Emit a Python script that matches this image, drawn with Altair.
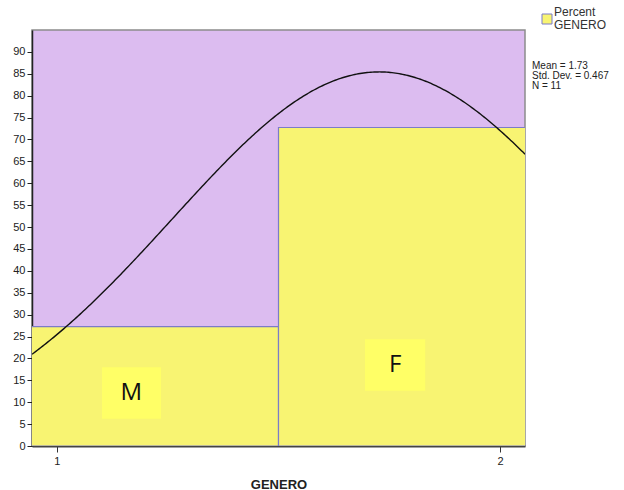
import altair as alt
import pandas as pd

# Histogram of GENERO (1 = M, 2 = F), shown as percent of cases
categories = ["M", "F"]
codes = [1, 2]
percents = [27.27, 72.73]

# Summary statistics reported beside the chart
mean_value = 1.727
std_dev = 0.467
n_cases = 11

# Label boxes placed on each bar (data coordinates)
label_text = ["M", "F"]
label_x = [1.168, 1.763]
label_y = [12.1, 18.5]
label_box_x0 = [1.102, 1.695]
label_box_x1 = [1.235, 1.831]
label_box_y0 = [6.2, 12.6]
label_box_y1 = [18.0, 24.4]

X_DOMAIN = [0.944, 2.056]
Y_DOMAIN = [0, 95]
Y_TICKS = list(range(0, 95, 5))
X_TICKS = [1, 2]
W, H = 493, 416

bars = pd.DataFrame({
    "GENERO": categories,
    "code": codes,
    "start": [c - 0.5 for c in codes],
    "end": [c + 0.5 for c in codes],
    "percent": percents,
})

labels = pd.DataFrame({
    "text": label_text,
    "x": label_x,
    "y": label_y,
    "x0": label_box_x0,
    "x1": label_box_x1,
    "y0": label_box_y0,
    "y1": label_box_y1,
})

xs = alt.Scale(domain=X_DOMAIN, nice=False, zero=False)
ys = alt.Scale(domain=Y_DOMAIN, nice=False)

x_axis = alt.Axis(values=X_TICKS, format="d", title="GENERO", grid=False)
y_axis = alt.Axis(values=Y_TICKS, title=None, grid=False)

hist = alt.Chart(bars).mark_rect(clip=True, color="#f8f472", stroke="#7c7cc8", strokeWidth=1.2).encode(
    x=alt.X("start:Q", scale=xs, axis=x_axis),
    x2="end:Q",
    y=alt.Y("percent:Q", scale=ys, axis=y_axis),
    y2=alt.datum(0),
)

# Normal curve built from the reported mean and standard deviation (bin width 1, percent scale)
curve = alt.Chart(alt.sequence(X_DOMAIN[0], X_DOMAIN[1] + 0.001, 0.004, as_="x")).transform_calculate(
    y=f"100 * exp(-0.5 * pow((datum.x - {mean_value}) / {std_dev}, 2)) / ({std_dev} * sqrt(2 * PI))"
).mark_line(color="#111", strokeWidth=1.4, clip=True).encode(
    x=alt.X("x:Q", scale=xs, axis=x_axis),
    y=alt.Y("y:Q", scale=ys, axis=y_axis),
)

boxes = alt.Chart(labels).mark_rect(color="#ffff66").encode(
    x=alt.X("x0:Q", scale=xs, axis=x_axis), x2="x1:Q",
    y=alt.Y("y0:Q", scale=ys, axis=y_axis), y2="y1:Q",
)
box_text = alt.Chart(labels).mark_text(fontSize=24, font="Open Sans", color="#111",
                                       baseline="middle", align="center").encode(
    x=alt.X("x:Q", scale=xs, axis=x_axis),
    y=alt.Y("y:Q", scale=ys, axis=y_axis),
    text="text:N",
)

# Legend swatch and statistics text to the right of the plot
legend_df = pd.DataFrame({"k": [0]})
swatch = alt.Chart(legend_df).mark_rect(color="#f8f472", stroke="#7c7cc8", strokeWidth=1).encode(
    x=alt.value(W + 17), x2=alt.value(W + 27),
    y=alt.value(-16), y2=alt.value(-6),
)
legend_text = alt.Chart(legend_df).mark_text(
    align="left", baseline="alphabetic", fontSize=12, font="Liberation Sans",
    color="#333", lineHeight=13
).encode(
    x=alt.value(W + 29), y=alt.value(-14),
    text=alt.value(["Percent", "GENERO"]),
)
stats_text = alt.Chart(legend_df).mark_text(
    align="left", baseline="alphabetic", fontSize=10, font="Liberation Sans",
    color="#222", lineHeight=10
).encode(
    x=alt.value(W + 7), y=alt.value(39),
    text=alt.value([f"Mean = {mean_value:.2f}", f"Std. Dev. = {std_dev}", f"N = {n_cases}"]),
)

chart = alt.layer(hist, curve, boxes, box_text, swatch, legend_text, stats_text).properties(
    width=W, height=H,
    autosize=alt.AutoSizeParams(type="none"),
    padding={"left": 32, "top": 30, "right": 99, "bottom": 44},
    background="white",
).configure_view(
    fill="#dcbcf0", stroke="#8c8c8c", strokeWidth=1.5
).configure_axisX(
    tickSize=6, tickColor="#333", domainColor="#444", domainWidth=2,
    labelFontSize=11, labelColor="#222", labelPadding=3,
    titleFontSize=13, titleFontWeight="bold", titleColor="#222",
    titlePadding=12, labelFont="Liberation Sans", titleFont="Liberation Sans",
).configure_axisY(
    tickSize=5, tickColor="#222", domainColor="#222", domainWidth=1.5,
    labelFontSize=11, labelColor="#222", labelPadding=2,
    labelOverlap=False, labelFont="Liberation Sans",
)

chart.save("out.html", embed_options={"renderer": "svg", "actions": False})
